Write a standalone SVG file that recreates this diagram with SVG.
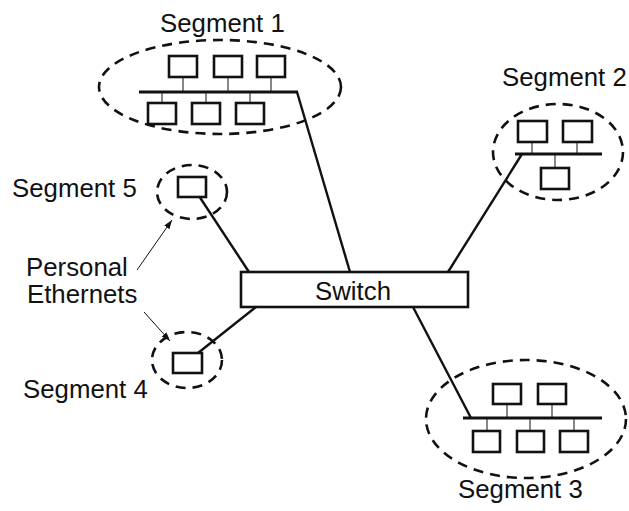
<svg xmlns="http://www.w3.org/2000/svg" width="629" height="511" viewBox="0 0 629 511">
<style>
.seg{fill:none;stroke:#111;stroke-width:2.6;stroke-dasharray:10 7}
.pc{fill:#fff;stroke:#111;stroke-width:2.6}
.bus{stroke:#111;stroke-width:3.2;stroke-linecap:butt}
.drop{stroke:#555;stroke-width:1.4}
.link{stroke:#111;stroke-width:2.4;fill:none}
.arr{stroke:#111;stroke-width:1;fill:none}
text{font-family:"Liberation Sans",Arial,Helvetica,sans-serif;font-size:25.8px;fill:#111}
</style>
<defs>
<marker id="ah" viewBox="0 0 10 10" refX="10" refY="5" markerWidth="9" markerHeight="9" orient="auto" markerUnits="userSpaceOnUse">
<path d="M0,1.5 L10,5 L0,8.5 z" fill="#111"/>
</marker>
</defs>
<rect width="629" height="511" fill="#fff"/>
<g id="connectors">
<line class="link" x1="297" y1="92" x2="350" y2="272"/>
<line class="link" x1="522" y1="154" x2="448" y2="272"/>
<line class="link" x1="413" y1="307" x2="471" y2="418"/>
<line class="link" x1="199" y1="196" x2="249" y2="272"/>
<line class="link" x1="256" y1="307" x2="198" y2="353"/>
<line class="arr" x1="137" y1="270" x2="172" y2="220" marker-end="url(#ah)"/>
<line class="arr" x1="144" y1="312" x2="170" y2="341" marker-end="url(#ah)"/>
</g>
<g id="segment1">
<ellipse class="seg" cx="220" cy="87" rx="121" ry="47"/>
<line class="drop" x1="183" y1="77" x2="183" y2="92"/>
<line class="drop" x1="228" y1="77" x2="228" y2="92"/>
<line class="drop" x1="271" y1="77" x2="271" y2="92"/>
<line class="drop" x1="162" y1="92" x2="162" y2="103"/>
<line class="drop" x1="206" y1="92" x2="206" y2="103"/>
<line class="drop" x1="250" y1="92" x2="250" y2="103"/>
<line class="bus" x1="139" y1="92" x2="298" y2="92"/>
<rect class="pc" x="169" y="56" width="28" height="21"/>
<rect class="pc" x="214" y="56" width="28" height="21"/>
<rect class="pc" x="257" y="56" width="28" height="21"/>
<rect class="pc" x="148" y="103" width="28" height="21"/>
<rect class="pc" x="192" y="103" width="28" height="21"/>
<rect class="pc" x="236" y="103" width="28" height="21"/>
<text x="160" y="32">Segment 1</text>
</g>
<g id="segment2">
<ellipse class="seg" cx="558" cy="152" rx="65" ry="48"/>
<line class="drop" x1="532" y1="135" x2="532" y2="154"/>
<line class="drop" x1="577" y1="135" x2="577" y2="154"/>
<line class="drop" x1="555" y1="154" x2="555" y2="168"/>
<line class="bus" x1="515" y1="154" x2="602" y2="154"/>
<rect class="pc" x="518" y="121" width="29" height="21"/>
<rect class="pc" x="563" y="121" width="29" height="21"/>
<rect class="pc" x="541" y="168" width="28" height="21"/>
<text x="502" y="86">Segment 2</text>
</g>
<g id="segment3">
<ellipse class="seg" cx="526" cy="419" rx="100" ry="59"/>
<line class="drop" x1="507" y1="404" x2="507" y2="418"/>
<line class="drop" x1="552" y1="404" x2="552" y2="418"/>
<line class="drop" x1="487" y1="418" x2="487" y2="431"/>
<line class="drop" x1="530" y1="418" x2="530" y2="431"/>
<line class="drop" x1="574" y1="418" x2="574" y2="431"/>
<line class="bus" x1="463" y1="418" x2="602" y2="418"/>
<rect class="pc" x="493" y="384" width="28" height="20"/>
<rect class="pc" x="538" y="384" width="28" height="20"/>
<rect class="pc" x="473" y="431" width="27" height="21"/>
<rect class="pc" x="517" y="431" width="27" height="21"/>
<rect class="pc" x="560" y="431" width="28" height="21"/>
<text x="458" y="498">Segment 3</text>
</g>
<g id="segment5">
<ellipse class="seg" cx="192" cy="192" rx="35" ry="27"/>
<rect class="pc" x="178" y="177" width="28" height="20"/>
<text x="12" y="197">Segment 5</text>
</g>
<g id="segment4">
<ellipse class="seg" cx="187" cy="360" rx="35" ry="28"/>
<rect class="pc" x="173" y="353" width="29" height="20"/>
<text x="23" y="398">Segment 4</text>
</g>
<g id="switch">
<rect class="pc" x="241" y="272" width="227" height="35"/>
<text x="353" y="300" text-anchor="middle">Switch</text>
</g>
<g id="label">
<text x="26" y="276">Personal</text>
<text x="27" y="303">Ethernets</text>
</g>
</svg>
